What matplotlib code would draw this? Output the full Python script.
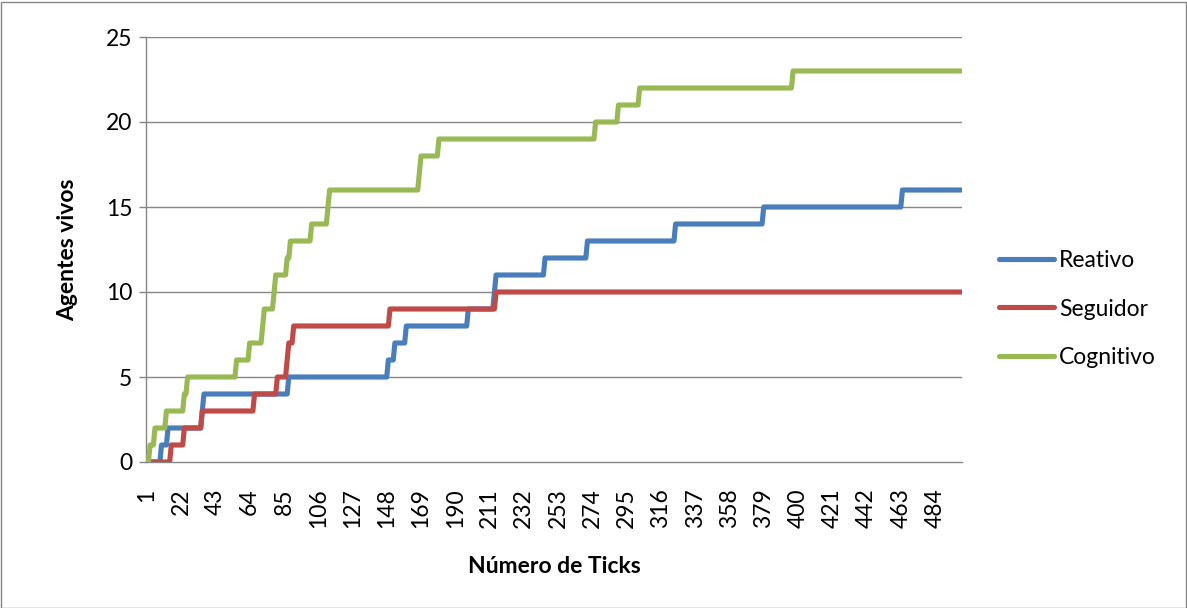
import numpy as np
import matplotlib
matplotlib.use("Agg")
import matplotlib.pyplot as plt
from matplotlib.patches import Rectangle

plt.rcParams['font.family'] = ['Lato', 'DejaVu Sans']

# ---- data (step change points) ----
n_ticks = 500
reativo_ticks = [1, 10, 14, 35, 36, 88, 149, 153, 160, 198, 214, 215, 245, 271, 325, 379, 464]
reativo_vals  = [0, 1, 2, 3, 4, 5, 6, 7, 8, 9, 10, 11, 12, 13, 14, 15, 16]
seguidor_ticks = [1, 16, 24, 35, 67, 81, 87, 88, 91, 150, 215]
seguidor_vals  = [0, 1, 2, 3, 4, 5, 6, 7, 8, 9, 10]
cognitivo_ticks = [1, 3, 6, 13, 24, 26, 56, 64, 72, 73, 79, 80, 87, 89, 102, 112, 113,
                   168, 169, 180, 276, 290, 303, 397]
cognitivo_vals  = [0, 1, 2, 3, 4, 5, 6, 7, 8, 9, 10, 11, 12, 13, 14, 15, 16,
                   17, 18, 19, 20, 21, 22, 23]
series_names = ["Reativo", "Seguidor", "Cognitivo"]
colors = ["#4A7EBB", "#BE4B48", "#98B954"]
x_tick_labels = [str(v) for v in range(1, 485, 21)]
y_ticks = [0, 5, 10, 15, 20, 25]

ticks = np.arange(1, n_ticks + 1)


def expand(ct, cv):
    idx = np.searchsorted(np.array(ct), ticks, side="right") - 1
    return np.array(cv)[idx]


series = [expand(reativo_ticks, reativo_vals),
          expand(seguidor_ticks, seguidor_vals),
          expand(cognitivo_ticks, cognitivo_vals)]

FS = 16.5
W, H = 1187, 608
fig = plt.figure(figsize=(W / 100, H / 100), dpi=100)
ax = fig.add_axes([146 / W, 1 - 462 / H, 816 / W, 425 / H])

grid_c = "#868686"
for y in y_ticks[1:]:
    ax.axhline(y, color=grid_c, lw=1.0, zorder=1)

for s, name, c in zip(series, series_names, colors):
    ax.plot(ticks, s, color=c, lw=3.7, label=name, solid_capstyle="round",
            solid_joinstyle="round", zorder=3)

ax.set_xlim(0.5, n_ticks + 0.5)
ax.set_ylim(0, 25)
ax.set_yticks(y_ticks)
ax.set_yticklabels([str(v) for v in y_ticks], fontsize=FS)
ax.set_xticks([int(t) for t in x_tick_labels])
ax.set_xticklabels(x_tick_labels, rotation=90, fontsize=FS)

for side in ["top", "right"]:
    ax.spines[side].set_visible(False)
for side in ["left", "bottom"]:
    ax.spines[side].set_color(grid_c)
    ax.spines[side].set_linewidth(1.0)

ax.tick_params(axis="y", length=5, width=1, color=grid_c, pad=5)
ax.tick_params(axis="x", length=0, pad=19)

ax.set_ylabel("Agentes vivos", fontsize=FS, fontweight="bold", labelpad=20)
ax.set_xlabel("Número de Ticks", fontsize=FS, fontweight="bold", labelpad=20)

handles, labels = ax.get_legend_handles_labels()
fig.legend(handles, labels, loc="center left", bbox_to_anchor=(999 / W, 1 - 309 / H),
           frameon=False, fontsize=FS, handlelength=2.4, handletextpad=0.22,
           labelspacing=1.22, borderpad=0, borderaxespad=0)

fig.patches.append(Rectangle((0.5 / W, 0.5 / H), (W - 2) / W, (H - 2) / H,
                             transform=fig.transFigure, fill=False,
                             edgecolor=grid_c, lw=1.0))

fig.savefig("out.png", dpi=100)
